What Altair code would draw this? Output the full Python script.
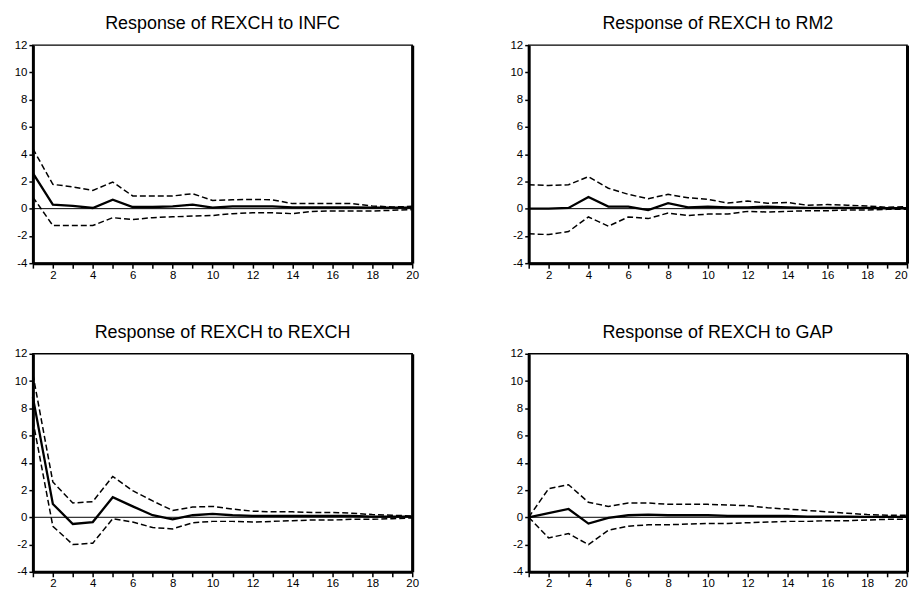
import altair as alt
import pandas as pd

periods = list(range(1, 21))

infc_resp = [2.6, 0.3, 0.2, 0.05, 0.65, 0.12, 0.12, 0.17, 0.3, 0.07, 0.17, 0.17, 0.17, 0.1, 0.1, 0.1, 0.1, 0.07, 0.07, 0.07]
infc_up = [4.4, 1.78, 1.6, 1.34, 1.95, 0.93, 0.93, 0.93, 1.1, 0.6, 0.65, 0.68, 0.65, 0.37, 0.37, 0.37, 0.37, 0.2, 0.12, 0.17]
infc_lo = [0.85, -1.24, -1.24, -1.24, -0.66, -0.8, -0.66, -0.6, -0.54, -0.5, -0.37, -0.3, -0.3, -0.37, -0.2, -0.17, -0.17, -0.17, -0.12, -0.07]

rm2_resp = [0.0, 0.0, 0.05, 0.85, 0.15, 0.15, -0.1, 0.4, 0.1, 0.15, 0.1, 0.1, 0.15, 0.1, 0.05, 0.05, 0.05, 0.05, 0.03, 0.03]
rm2_up = [1.75, 1.7, 1.75, 2.35, 1.5, 1.05, 0.73, 1.05, 0.8, 0.68, 0.41, 0.56, 0.4, 0.45, 0.25, 0.3, 0.25, 0.2, 0.1, 0.15]
rm2_lo = [-1.85, -1.9, -1.68, -0.61, -1.29, -0.61, -0.73, -0.32, -0.51, -0.4, -0.4, -0.2, -0.25, -0.2, -0.15, -0.15, -0.1, -0.1, -0.05, -0.05]

rexch_resp = [8.8, 0.98, -0.49, -0.35, 1.47, 0.8, 0.15, -0.15, 0.15, 0.25, 0.15, 0.1, 0.1, 0.1, 0.1, 0.1, 0.1, 0.05, 0.05, 0.05]
rexch_up = [10.5, 2.59, 1.05, 1.15, 3.0, 1.95, 1.2, 0.5, 0.75, 0.8, 0.6, 0.45, 0.4, 0.4, 0.35, 0.35, 0.3, 0.2, 0.15, 0.1]
rexch_lo = [7.1, -0.66, -2.0, -1.9, -0.1, -0.35, -0.75, -0.85, -0.4, -0.3, -0.3, -0.35, -0.3, -0.25, -0.2, -0.2, -0.15, -0.15, -0.1, -0.05]

gap_resp = [0.0, 0.3, 0.61, -0.46, -0.05, 0.15, 0.2, 0.15, 0.15, 0.15, 0.1, 0.1, 0.1, 0.1, 0.05, 0.05, 0.05, 0.03, 0.03, 0.03]
gap_up = [0.0, 2.1, 2.39, 1.1, 0.8, 1.05, 1.05, 0.95, 0.95, 0.95, 0.9, 0.85, 0.7, 0.6, 0.5, 0.4, 0.3, 0.2, 0.15, 0.15]
gap_lo = [0.0, -1.51, -1.2, -2.0, -0.95, -0.65, -0.55, -0.55, -0.5, -0.45, -0.45, -0.4, -0.35, -0.3, -0.3, -0.25, -0.25, -0.2, -0.15, -0.15]

titles = ["Response of REXCH to INFC", "Response of REXCH to RM2",
          "Response of REXCH to REXCH", "Response of REXCH to GAP"]
y_ticks = [-4, -2, 0, 2, 4, 6, 8, 10, 12]
zero_level = [0]

H = 219


def panel(title, resp, up, lo, width, flush):
    df = pd.DataFrame({
        "period": periods * 3,
        "value": resp + up + lo,
        "series": ["resp"] * 20 + ["upper"] * 20 + ["lower"] * 20,
    })
    base = alt.Chart(df)
    xscale = alt.Scale(domain=[1, 20], nice=False, zero=False)
    yscale = alt.Scale(domain=[-4, 12], nice=False, zero=False)
    xaxis = alt.Axis(values=periods, labelExpr="datum.value % 2 == 0 ? datum.label : ''",
                     title=None, grid=False, domainWidth=3, tickSize=5, labelPadding=1,
                     labelFlush=flush, labelOverlap=False)
    xenc = alt.X("period:Q", scale=xscale, axis=xaxis)

    zero = alt.Chart(pd.DataFrame({"z": zero_level})).mark_rule(
        color="black", strokeWidth=1).encode(
        y=alt.Y("z:Q", scale=yscale, axis=None))

    bands = base.transform_filter("datum.series != 'resp'").mark_line(
        color="black", strokeWidth=1.5, strokeDash=[6, 3]).encode(
        x=xenc,
        y=alt.Y("value:Q", scale=yscale,
                axis=alt.Axis(orient="right", labels=False, ticks=False,
                              tickSize=0, labelPadding=0, minExtent=0, maxExtent=0,
                              domainWidth=3, title=None, grid=False)),
        detail="series:N")

    line = base.transform_filter("datum.series == 'resp'").mark_line(
        color="black", strokeWidth=2.3).encode(
        x=xenc,
        y=alt.Y("value:Q", scale=yscale,
                axis=alt.Axis(orient="left", values=y_ticks, title=None, grid=False,
                              domainWidth=3, tickSize=4, labelPadding=2,
                              labelExpr="replace(datum.label, '\u2212', '-')")))

    return alt.layer(zero, bands, line).properties(
        width=width, height=H,
        title=alt.Title(title, frame="group", fontSize=18, font="Liberation Sans",
                        fontWeight="normal", color="black", offset=6))


p1 = panel(titles[0], infc_resp, infc_up, infc_lo, 381, False)
p2 = panel(titles[1], rm2_resp, rm2_up, rm2_lo, 380, True)
p3 = panel(titles[2], rexch_resp, rexch_up, rexch_lo, 381, False)
p4 = panel(titles[3], gap_resp, gap_up, gap_lo, 380, True)

chart = alt.vconcat(
    alt.hconcat(p1, p2, spacing=89),
    alt.hconcat(p3, p4, spacing=89),
    spacing=41,
).properties(
    padding={"left": 5, "top": 5, "right": 0, "bottom": 0}
).configure_view(
    stroke="black", strokeWidth=1.5
).configure_axis(
    labelFont="Liberation Sans", labelFontSize=11.5, labelColor="black",
    domainColor="black", tickColor="black", tickWidth=1.5
)

chart.save("out.html", embed_options={"renderer": "svg", "actions": False})
